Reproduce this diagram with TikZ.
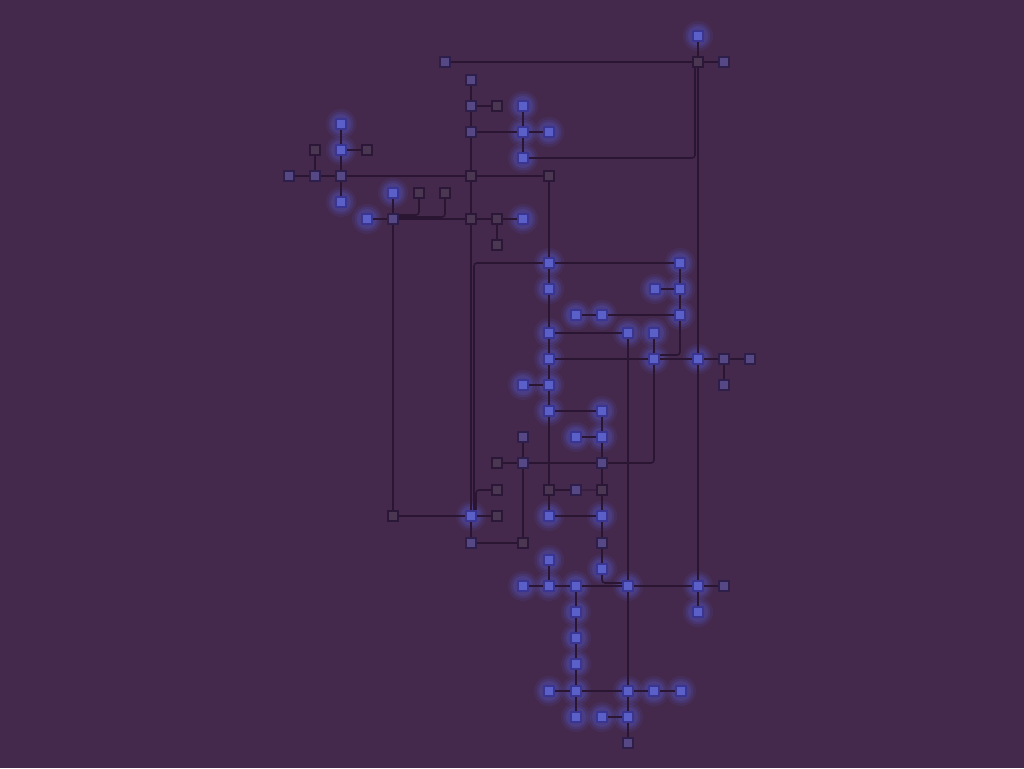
\documentclass[tikz,border=0pt]{standalone}
\usetikzlibrary{calc}
\definecolor{bg}{HTML}{45294D}
\definecolor{ln}{HTML}{2A1533}
\definecolor{dkf}{HTML}{4B3752}
\definecolor{dkb}{HTML}{2B1838}
\definecolor{mdf}{HTML}{554884}
\definecolor{mdb}{HTML}{2E1E4A}
\definecolor{brf}{HTML}{5A60C8}
\definecolor{brb}{HTML}{3A3590}
\definecolor{glw}{HTML}{5560DC}
\pgfdeclarelayer{bgl}
\pgfdeclarelayer{glow}
\pgfdeclarelayer{edges}
\pgfsetlayers{bgl,glow,edges,main}
\newcommand\mynd[3]{\node[#1] (n#2x#3) at (#2,#3) {};}
\begin{document}
\begin{tikzpicture}[x=1pt,y=-1pt,
  nd/.style={rectangle,minimum size=10.5pt,inner sep=0pt,line width=1.6pt},
  dk/.style={nd,fill=dkf,draw=dkb},
  md/.style={nd,fill=mdf,draw=mdb},
  br/.style={nd,fill=brf,draw=brb},
  edge/.style={draw=ln,line width=1.6pt},
  rc/.style={edge,rounded corners=3pt}]
\begin{pgfonlayer}{bgl}
\fill[bg] (0,0) rectangle (1024,768);
\end{pgfonlayer}
\useasboundingbox (0,0) rectangle (1024,768);
% top group
\mynd{md}{445}{62}
\mynd{br}{698}{36}
\mynd{dk}{698}{62}
\mynd{md}{724}{62}
\mynd{md}{471}{80}
\mynd{md}{471}{106}
\mynd{md}{471}{132}
\mynd{dk}{471}{176}
\mynd{dk}{471}{219}
\mynd{dk}{497}{106}
\mynd{br}{523}{106}
\mynd{br}{523}{132}
\mynd{br}{549}{132}
\mynd{br}{523}{158}
\mynd{br}{341}{124}
\mynd{br}{341}{150}
\mynd{md}{341}{176}
\mynd{br}{341}{202}
\mynd{dk}{315}{150}
\mynd{dk}{367}{150}
\mynd{md}{289}{176}
\mynd{md}{315}{176}
\mynd{br}{393}{193}
\mynd{dk}{419}{193}
\mynd{dk}{445}{193}
\mynd{br}{367}{219}
\mynd{md}{393}{219}
\mynd{dk}{497}{219}
\mynd{br}{523}{219}
\mynd{dk}{497}{245}
\mynd{dk}{549}{176}
% middle
\mynd{br}{549}{263}
\mynd{br}{549}{289}
\mynd{br}{680}{263}
\mynd{br}{680}{289}
\mynd{br}{655}{289}
\mynd{br}{576}{315}
\mynd{br}{602}{315}
\mynd{br}{680}{315}
\mynd{br}{549}{333}
\mynd{br}{628}{333}
\mynd{br}{654}{333}
\mynd{br}{549}{359}
\mynd{br}{654}{359}
\mynd{br}{698}{359}
\mynd{md}{724}{359}
\mynd{md}{750}{359}
\mynd{md}{724}{385}
\mynd{br}{523}{385}
\mynd{br}{549}{385}
\mynd{br}{549}{411}
\mynd{br}{602}{411}
\mynd{br}{576}{437}
\mynd{br}{602}{437}
\mynd{md}{602}{463}
\mynd{md}{523}{437}
\mynd{dk}{497}{463}
\mynd{md}{523}{463}
\mynd{dk}{497}{490}
\mynd{dk}{497}{516}
\mynd{dk}{549}{490}
\mynd{md}{576}{490}
\mynd{dk}{602}{490}
\mynd{br}{549}{516}
\mynd{br}{602}{516}
\mynd{md}{602}{543}
\mynd{br}{602}{569}
\mynd{dk}{393}{516}
\mynd{br}{471}{516}
\mynd{md}{471}{543}
\mynd{dk}{523}{543}
% bottom
\mynd{br}{549}{560}
\mynd{br}{523}{586}
\mynd{br}{549}{586}
\mynd{br}{576}{586}
\mynd{br}{628}{586}
\mynd{br}{698}{586}
\mynd{md}{724}{586}
\mynd{br}{698}{612}
\mynd{br}{576}{612}
\mynd{br}{576}{638}
\mynd{br}{576}{664}
\mynd{br}{576}{691}
\mynd{br}{549}{691}
\mynd{br}{628}{691}
\mynd{br}{654}{691}
\mynd{br}{681}{691}
\mynd{br}{576}{717}
\mynd{br}{602}{717}
\mynd{br}{628}{717}
\mynd{md}{628}{743}
% glow
\begin{pgfonlayer}{glow}
\foreach \p in {n523x106,n523x132,n549x132,n523x158,n698x36,n341x124,n341x150,n341x202,n393x193,n367x219,n523x219,n549x263,n549x289,n680x263,n680x289,n655x289,n576x315,n602x315,n680x315,n549x333,n628x333,n654x333,n549x359,n654x359,n698x359,n523x385,n549x385,n549x411,n602x411,n576x437,n602x437,n549x516,n602x516,n602x569,n471x516,n549x560,n523x586,n549x586,n576x586,n628x586,n698x586,n698x612,n576x612,n576x638,n576x664,n576x691,n549x691,n628x691,n654x691,n681x691,n576x717,n602x717,n628x717}{
  \fill[glw,opacity=0.10] (\p) circle (15pt);
  \fill[glw,opacity=0.14] (\p) circle (12.5pt);
  \fill[glw,opacity=0.20] (\p) circle (10pt);
}
\end{pgfonlayer}
% edges
\begin{pgfonlayer}{edges}
\draw[edge] (n445x62) -- (n698x62);
\draw[edge] (n698x36) -- (n698x62);
\draw[edge] (n698x62) -- (n724x62);
\draw[edge] (n698x62) -- (n698x359);
\draw[edge] (n698x359) -- (n698x586);
\draw[rc] (n523x158.east) -| ([xshift=-3pt]n698x62.south);
\draw[edge] (n471x80) -- (n471x106) -- (n471x132) -- (n471x176) -- (n471x219) -- (n471x516);
\draw[edge] (n471x106) -- (n497x106);
\draw[edge] (n471x132) -- (n523x132);
\draw[edge] (n523x132) -- (n549x132);
\draw[edge] (n523x106) -- (n523x132) -- (n523x158);
\draw[edge] (n289x176) -- (n315x176) -- (n341x176) -- (n471x176) -- (n549x176);
\draw[edge] (n315x150) -- (n315x176);
\draw[edge] (n341x124) -- (n341x150) -- (n341x176) -- (n341x202);
\draw[edge] (n341x150) -- (n367x150);
\draw[edge] (n393x193) -- (n393x219);
\draw[rc] (n419x193.south) |- ([yshift=4pt]n393x219.east);
\draw[rc] (n445x193.south) |- ([yshift=2pt]n393x219.east);
\draw[edge] (n367x219) -- (n393x219) -- (n471x219) -- (n497x219) -- (n523x219);
\draw[edge] (n497x219) -- (n497x245);
\draw[edge] (n393x219) -- (n393x516) -- (n471x516);
\draw[edge] (n549x176) -- (n549x263) -- (n549x289) -- (n549x333) -- (n549x359) -- (n549x385) -- (n549x411) -- (n549x490) -- (n549x516);
\draw[edge] (n549x263) -- (n680x263);
\draw[rc] (n549x263.west) -| ([xshift=3pt]n471x516.north);
\draw[edge] (n680x263) -- (n680x289) -- (n680x315);
\draw[edge] (n655x289) -- (n680x289);
\draw[edge] (n576x315) -- (n602x315) -- (n680x315);
\draw[rc] (n680x315.south) |- ([yshift=4pt]n654x359.east);
\draw[edge] (n549x333) -- (n628x333);
\draw[edge] (n628x333) -- (n628x586) -- (n628x691) -- (n628x717) -- (n628x743);
\draw[edge] (n654x333) -- (n654x359);
\draw[edge] (n549x359) -- (n654x359) -- (n698x359) -- (n724x359) -- (n750x359);
\draw[edge] (n724x359) -- (n724x385);
\draw[rc] (n654x359.south) |- (n602x463.east);
\draw[edge] (n523x385) -- (n549x385);
\draw[edge] (n549x411) -- (n602x411) -- (n602x437) -- (n602x463) -- (n602x490) -- (n602x516) -- (n602x543) -- (n602x569);
\draw[edge] (n576x437) -- (n602x437);
\draw[rc] (n602x569.south) |- ([yshift=3pt]n628x586.west);
\draw[edge] (n497x463) -- (n523x463) -- (n602x463);
\draw[edge] (n523x437) -- (n523x463) -- (n523x543);
\draw[edge] (n471x516) -- (n471x543) -- (n523x543);
\draw[edge] (n471x516) -- (n497x516);
\draw[rc] (n497x490.west) -| ([xshift=5pt]n471x516.north);
\draw[edge] (n549x490) -- (n576x490);
\draw[edge,opacity=0.45] (n576x490) -- (n602x490);
\draw[edge] (n549x516) -- (n602x516);
\draw[edge] (n549x560) -- (n549x586);
\draw[edge] (n523x586) -- (n549x586) -- (n576x586) -- (n628x586) -- (n698x586) -- (n724x586);
\draw[edge] (n698x586) -- (n698x612);
\draw[edge] (n576x586) -- (n576x612) -- (n576x638) -- (n576x664) -- (n576x691) -- (n576x717);
\draw[edge] (n549x691) -- (n576x691) -- (n628x691) -- (n654x691) -- (n681x691);
\draw[edge] (n602x717) -- (n628x717);
\end{pgfonlayer}
\end{tikzpicture}
\end{document}
